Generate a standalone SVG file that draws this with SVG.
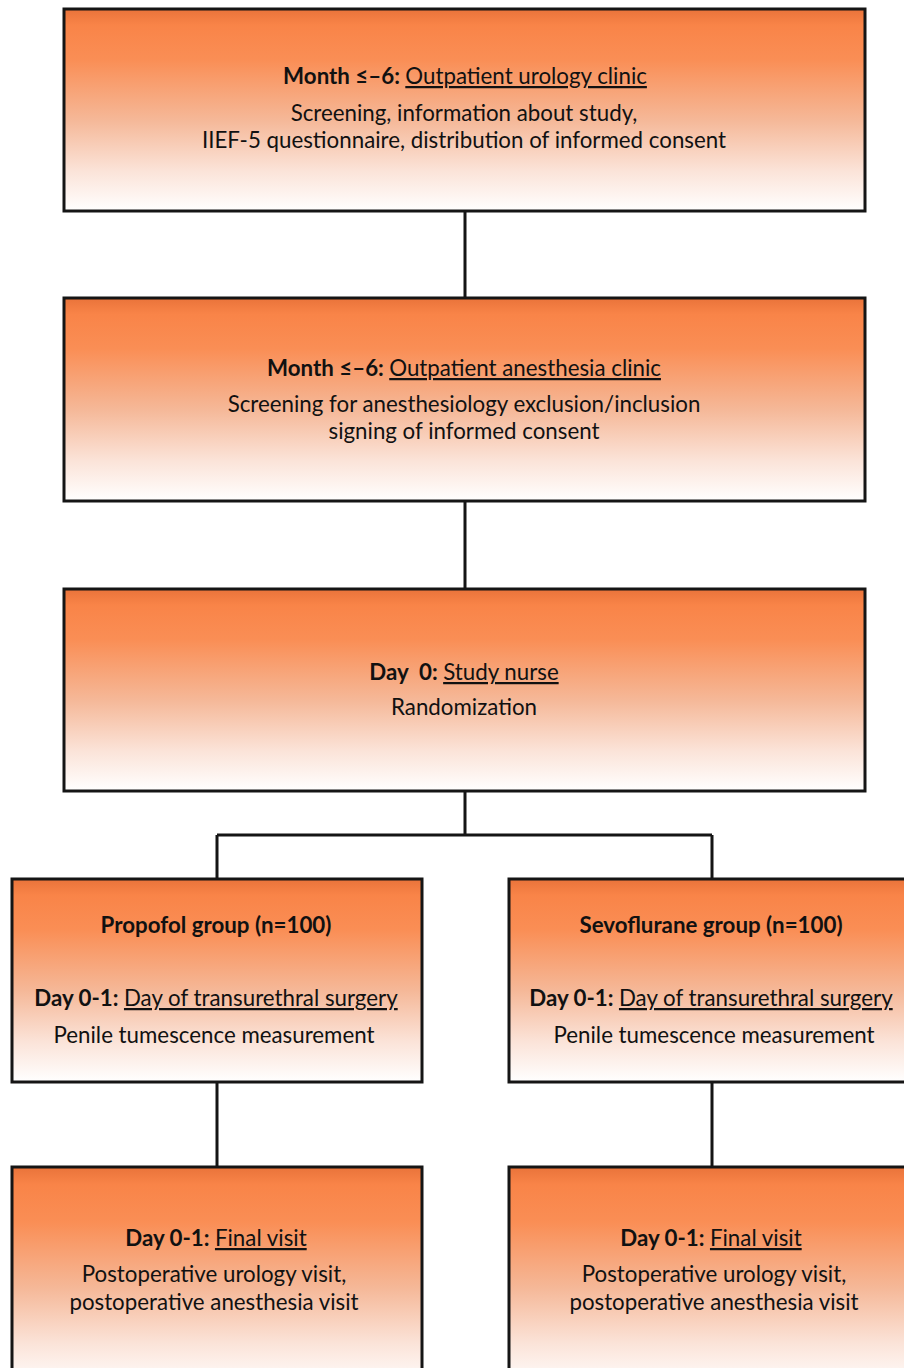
<svg xmlns="http://www.w3.org/2000/svg" width="904" height="1368" viewBox="0 0 904 1368">
<defs>
<linearGradient id="g" x1="0" y1="0" x2="0" y2="1">
<stop offset="0" stop-color="#E9733A"/>
<stop offset="0.08" stop-color="#F98448"/>
<stop offset="0.25" stop-color="#FA8E55"/>
<stop offset="0.55" stop-color="#F5B898"/>
<stop offset="0.8" stop-color="#FBE3D8"/>
<stop offset="1" stop-color="#FFFFFF"/>
</linearGradient>
<style>
.box{fill:url(#g);stroke:#151515;stroke-width:3}
.t{font-family:Lato,"Open Sans","Liberation Sans",sans-serif;font-size:22.3px;fill:#111;text-anchor:middle}
.b{font-weight:bold}
.u{text-decoration:underline}
.c{fill:none;stroke:#151515;stroke-width:3}
</style>
</defs>
<rect width="904" height="1368" fill="#fff"/>
<g id="connectors">
<path class="c" d="M465 212V297M465 502V588M465 792V835M217 835H712M217 835V878M712 835V878M217 1083V1166M712 1083V1166"/>
</g>
<g id="n1">
<rect class="box" x="64" y="9" width="801" height="202"/>
<text class="t" x="465" y="84"><tspan class="b">Month ≤–6: </tspan><tspan class="u">Outpatient urology clinic</tspan></text>
<text class="t" x="464" y="121">Screening, information about study,</text>
<text class="t" x="464" y="148">IIEF-5 questionnaire, distribution of informed consent</text>
</g>
<g id="n2">
<rect class="box" x="64" y="298" width="801" height="203"/>
<text class="t" x="464" y="376"><tspan class="b">Month ≤–6: </tspan><tspan class="u">Outpatient anesthesia clinic</tspan></text>
<text class="t" x="464" y="412">Screening for anesthesiology exclusion/inclusion</text>
<text class="t" x="464" y="439">signing of informed consent</text>
</g>
<g id="n3">
<rect class="box" x="64" y="589" width="801" height="202"/>
<text class="t" x="464" y="680" xml:space="preserve"><tspan class="b">Day  0: </tspan><tspan class="u">Study nurse</tspan></text>
<text class="t" x="464" y="715">Randomization</text>
</g>
<g id="n4">
<rect class="box" x="12" y="879" width="410" height="203"/>
<text class="t b" x="216" y="933">Propofol group (n=100)</text>
<text class="t" x="216" y="1006"><tspan class="b">Day 0-1: </tspan><tspan class="u">Day of transurethral surgery</tspan></text>
<text class="t" x="214" y="1043">Penile tumescence measurement</text>
</g>
<g id="n5">
<rect class="box" x="509" y="879" width="400" height="203"/>
<text class="t b" x="711" y="933">Sevoflurane group (n=100)</text>
<text class="t" x="711" y="1006"><tspan class="b">Day 0-1: </tspan><tspan class="u">Day of transurethral surgery</tspan></text>
<text class="t" x="714" y="1043">Penile tumescence measurement</text>
</g>
<g id="n6">
<rect class="box" x="12" y="1167" width="410" height="220"/>
<text class="t" x="216" y="1246"><tspan class="b">Day 0-1: </tspan><tspan class="u">Final visit</tspan></text>
<text class="t" x="214" y="1282">Postoperative urology visit,</text>
<text class="t" x="214" y="1310">postoperative anesthesia visit</text>
</g>
<g id="n7">
<rect class="box" x="509" y="1167" width="400" height="220"/>
<text class="t" x="711" y="1246"><tspan class="b">Day 0-1: </tspan><tspan class="u">Final visit</tspan></text>
<text class="t" x="714" y="1282">Postoperative urology visit,</text>
<text class="t" x="714" y="1310">postoperative anesthesia visit</text>
</g>
</svg>
